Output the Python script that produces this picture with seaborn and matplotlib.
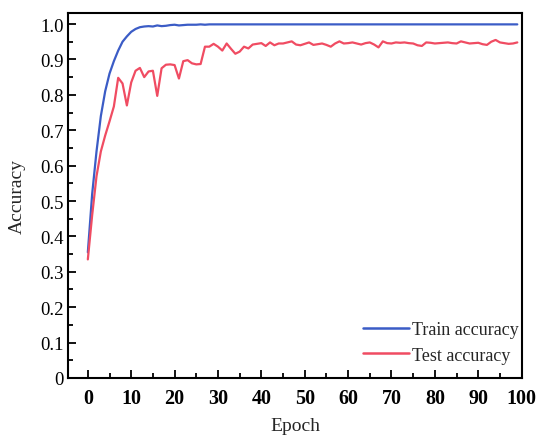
import matplotlib
matplotlib.use('Agg')
import matplotlib.pyplot as plt
from matplotlib.ticker import MultipleLocator, FixedLocator
import seaborn as sns
import pandas as pd
import numpy as np

sns.set_style('ticks')
plt.rcParams['font.family'] = ['Liberation Serif', 'DejaVu Serif']

# accuracy per epoch
epochs = list(range(100))
train_acc = [0.355, 0.52, 0.64, 0.74, 0.81, 0.86, 0.895, 0.925, 0.95, 0.965,
             0.978, 0.986, 0.991, 0.993, 0.994, 0.993, 0.996, 0.994, 0.995, 0.997,
             0.998, 0.996, 0.997, 0.998, 0.998, 0.998, 0.999, 0.998, 0.999, 0.999,
             0.999, 0.999, 0.999, 0.999, 0.999, 0.999, 0.999, 0.999, 0.999, 0.999,
             0.999, 0.999, 0.999, 0.999, 0.999, 0.999, 0.999, 0.999, 0.999, 0.999,
             0.999, 0.999, 0.999, 0.999, 0.999, 0.999, 0.999, 0.999, 0.999, 0.999,
             0.999, 0.999, 0.999, 0.999, 0.999, 0.999, 0.999, 0.999, 0.999, 0.999,
             0.999, 0.999, 0.999, 0.999, 0.999, 0.999, 0.999, 0.999, 0.999, 0.999,
             0.999, 0.999, 0.999, 0.999, 0.999, 0.999, 0.999, 0.999, 0.999, 0.999,
             0.999, 0.999, 0.999, 0.999, 0.999, 0.999, 0.999, 0.999, 0.999, 0.999]
test_acc = [0.335, 0.46, 0.57, 0.64, 0.685, 0.725, 0.767, 0.848, 0.832, 0.770,
            0.835, 0.868, 0.876, 0.850, 0.866, 0.868, 0.797, 0.875, 0.885, 0.886,
            0.884, 0.846, 0.895, 0.898, 0.889, 0.886, 0.887, 0.936, 0.936, 0.944,
            0.936, 0.925, 0.945, 0.930, 0.916, 0.922, 0.936, 0.931, 0.942, 0.944,
            0.946, 0.938, 0.948, 0.940, 0.945, 0.945, 0.948, 0.951, 0.942, 0.940,
            0.944, 0.948, 0.941, 0.943, 0.945, 0.941, 0.936, 0.945, 0.951, 0.945,
            0.946, 0.948, 0.945, 0.942, 0.946, 0.948, 0.942, 0.934, 0.951, 0.946,
            0.945, 0.948, 0.947, 0.948, 0.946, 0.945, 0.940, 0.938, 0.948, 0.947,
            0.945, 0.946, 0.947, 0.948, 0.946, 0.945, 0.951, 0.948, 0.945, 0.946,
            0.947, 0.943, 0.941, 0.950, 0.955, 0.948, 0.946, 0.944, 0.945, 0.948]

x_ticks = [0, 10, 20, 30, 40, 50, 60, 70, 80, 90, 100]
y_ticks = [0, 0.1, 0.2, 0.3, 0.4, 0.5, 0.6, 0.7, 0.8, 0.9, 1.0]
y_labels = ['0', '0.1', '0.2', '0.3', '0.4', '0.5', '0.6', '0.7', '0.8', '0.9', '1.0']

df = pd.DataFrame({'Epoch': epochs * 2,
                   'Accuracy': train_acc + test_acc,
                   'set': ['Train accuracy'] * 100 + ['Test accuracy'] * 100})

fig = plt.figure(figsize=(5.4, 4.39), dpi=100)
ax = fig.add_axes([0.1265, 0.1367, 0.8395, 0.8313])

sns.lineplot(data=df, x='Epoch', y='Accuracy', hue='set',
             palette={'Train accuracy': '#3b5cc6', 'Test accuracy': '#f04c62'},
             linewidth=1.6, ax=ax)

ax.set_xlim(-4.5, 100)
ax.set_ylim(0, 1.031)
ax.xaxis.set_major_locator(FixedLocator(x_ticks))
ax.xaxis.set_minor_locator(MultipleLocator(5))
ax.set_yticks(y_ticks)
ax.set_yticklabels(y_labels, fontsize=13.5)
ax.yaxis.set_minor_locator(MultipleLocator(0.05))
ax.set_xticklabels([str(t) for t in x_ticks], fontweight='bold', fontsize=14.5)

ax.tick_params(which='both', direction='in', width=1.3, colors='black')
ax.tick_params(which='major', length=6)
ax.tick_params(which='minor', length=3.5)
ax.tick_params(axis='x', pad=7)
for s in ax.spines.values():
    s.set_linewidth(1.5)
    s.set_color('black')

ax.set_xlabel('Epoch', fontsize=14, labelpad=7)
ax.set_ylabel('Accuracy', fontsize=14, labelpad=10)

leg = ax.legend(loc='lower right', bbox_to_anchor=(1.03, -0.005), frameon=False,
                fontsize=13, handlelength=2.5, handletextpad=0.2, labelspacing=0.45)
for line in leg.get_lines():
    line.set_linewidth(1.8)

fig.savefig('out.png', dpi=100)
